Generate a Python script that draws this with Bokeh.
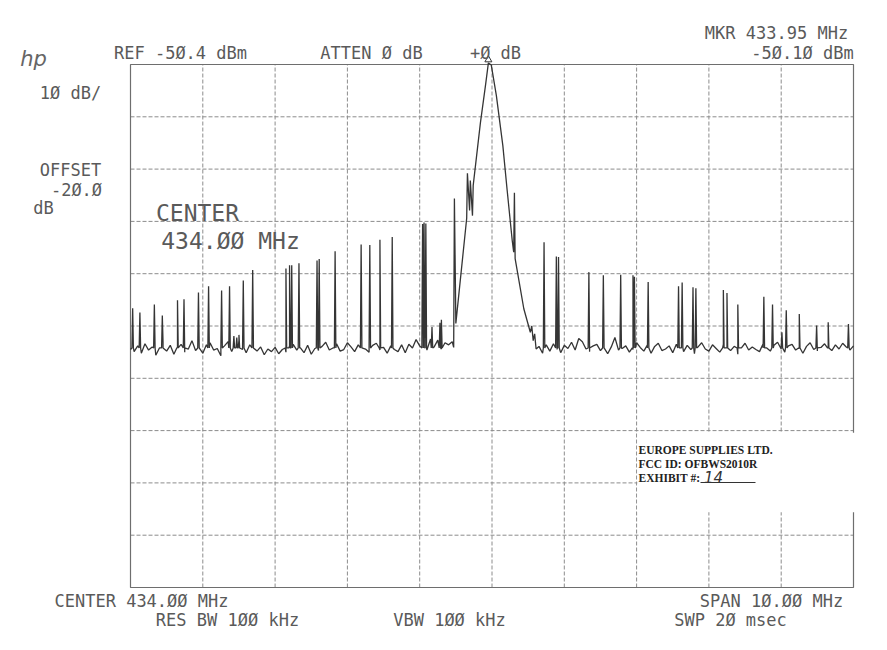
import numpy as np
from bokeh.plotting import figure
from bokeh.models import Range1d
from bokeh.core.properties import value
from bokeh.embed import file_html
from bokeh.resources import INLINE

# ---------------- data ----------------
f_start, f_stop = 429.0, 439.0          # MHz (center 434, span 10)
ref_level = -50.4                        # dBm, top of screen
db_div = 10.0
bottom_level = ref_level - 10 * db_div
marker_freq, marker_level = 433.95, -50.10

x_grid = [430, 431, 432, 433, 434, 435, 436, 437, 438]
y_grid = [-60.4, -70.4, -80.4, -90.4, -100.4, -110.4, -120.4, -130.4, -140.4]

# noise floor (0.05 MHz sweep steps)
noise_left_start = 429.00
noise_left = [
    -104.9, -105.3, -104.2, -105.6, -103.8, -105.0, -104.4, -106.0, -104.6, -103.5,
    -105.2, -104.1, -105.8, -104.5, -103.9, -105.4, -104.8, -103.2, -105.1, -104.3,
    -105.6, -104.0, -103.6, -105.0, -104.7, -106.1, -104.2, -103.4, -105.3, -104.6,
    -103.1, -104.9, -105.5, -104.0, -103.7, -105.2, -104.4, -105.9, -104.8, -105.3,
    -104.5, -105.7, -104.9, -105.4, -104.2, -103.9, -105.0, -104.6, -105.5, -104.1,
    -105.8, -104.7, -105.1, -104.3, -103.5, -105.0, -104.6, -103.8, -105.2, -104.9,
    -103.6, -104.4, -105.3, -104.0, -103.2, -104.8, -105.4, -104.1, -103.7, -105.0,
    -104.5, -105.6, -104.2, -104.9, -105.3, -104.0, -105.5, -103.9, -104.6, -103.0,
    -104.2, -103.5, -105.0, -102.9, -104.4, -103.1, -104.8, -103.6, -104.0, -103.4,
]
noise_right_start = 434.65
noise_right = [
    -104.3, -105.6, -104.0, -105.2, -103.8, -104.9, -105.5, -104.1, -104.7, -103.5,
    -105.0, -102.8, -103.4, -104.8, -105.3, -104.2, -103.9, -105.1, -104.5, -105.7,
    -104.4, -102.6, -105.0, -104.7, -104.2, -105.4, -104.9, -103.6, -104.5, -105.2,
    -104.0, -105.6, -104.3, -103.7, -105.1, -104.8, -104.2, -105.5, -103.9, -104.6,
    -105.3, -104.1, -104.9, -105.7, -104.4, -103.6, -104.8, -105.2, -104.0, -104.7,
    -105.4, -103.9, -104.5, -105.1, -104.3, -105.8, -104.6, -103.7, -105.0, -104.4,
    -104.9, -105.3, -103.8, -104.6, -105.2, -104.1, -103.5, -104.8, -105.4, -104.2,
    -103.9, -105.0, -104.7, -105.6, -104.3, -103.6, -104.9, -105.2, -104.5, -103.8,
    -104.6, -105.1, -104.0, -104.8, -103.7, -104.4, -105.0, -104.2,
]
noise_step = 0.05

# discrete spurs (MHz, dBm)
spur_freq = [
    429.03, 429.13, 429.33, 429.44, 429.65, 429.74, 429.94, 430.08, 430.26, 430.37,
    430.43, 430.47, 430.50, 430.56, 430.69, 431.15, 431.20, 431.23, 431.33, 431.58,
    431.61, 431.83, 432.19, 432.31, 432.45, 432.62, 433.04, 433.06, 433.085, 433.17,
    433.28, 433.30,
    434.72, 434.89, 434.92, 435.34, 435.54, 435.78, 435.95, 435.97, 436.16, 436.58,
    436.63, 436.78, 436.82, 437.20, 437.25, 437.40, 437.76, 437.88, 438.01, 438.07,
    438.25, 438.49, 438.65, 438.93,
]
spur_level = [
    -97.0, -97.8, -96.3, -98.4, -95.5, -95.3, -94.0, -92.8, -93.6, -92.8,
    -102.3, -102.6, -102.1, -91.7, -89.7, -89.4, -88.8, -88.8, -88.4, -87.9,
    -87.6, -86.1, -84.8, -84.9, -83.9, -83.4, -80.9, -80.6, -80.8, -100.6,
    -99.8, -99.2,
    -84.4, -87.1, -87.2, -90.1, -90.7, -90.6, -90.7, -91.0, -92.0, -92.8,
    -92.1, -93.0, -93.2, -93.5, -94.1, -96.3, -94.8, -96.3, -101.6, -97.4,
    -98.1, -100.3, -99.7, -100.0,
]
spur_base = -104.6
spur_halfwidth = 0.01

# main carrier response (MHz, dBm)
lobe_freq = [433.47, 433.48, 433.50, 433.65, 433.66, 433.69, 433.70, 433.73, 433.74,
             433.84, 433.91, 433.95, 433.99, 434.06, 434.15, 434.21, 434.28, 434.30,
             434.31, 434.32, 434.44, 434.53, 434.55, 434.57, 434.59, 434.61]
lobe_level = [-104.5, -76.0, -99.9, -79.8, -71.2, -78.3, -72.6, -79.3, -73.5,
              -61.5, -54.4, -50.1, -50.5, -56.3, -65.9, -74.5, -84.1, -86.3,
              -74.9, -87.5, -97.1, -101.6, -100.4, -103.2, -101.9, -104.8]

# ---------------- assemble trace ----------------
pts = []
nl_f = noise_left_start + noise_step * np.arange(len(noise_left))
nr_f = noise_right_start + noise_step * np.arange(len(noise_right))
pts += list(zip(nl_f, noise_left))
pts += list(zip(nr_f, noise_right))
pts += list(zip(lobe_freq, lobe_level))
for f, l in zip(spur_freq, spur_level):
    pts += [(f - spur_halfwidth, spur_base), (f, l), (f + spur_halfwidth, spur_base)]
pts.sort(key=lambda t: t[0])
tr_f = [t[0] for t in pts]
tr_l = [t[1] for t in pts]

# ---------------- figure (frame = whole canvas, graticule drawn in data units) ----
W, H = 880, 640
FL, FT = 130.0, 64.0              # graticule top-left on the canvas, px
PXF = 723.0 / (f_stop - f_start)  # px per MHz
PXD = 523.0 / (10 * db_div)       # px per dB

p = figure(width=W, height=H, output_backend="svg", toolbar_location=None,
           x_range=Range1d(f_start - FL / PXF, f_start + (W - FL) / PXF),
           y_range=Range1d(ref_level - (H - FT) / PXD, ref_level + FT / PXD),
           min_border_left=0, min_border_right=0, min_border_top=0, min_border_bottom=0)
p.axis.visible = False
p.grid.visible = False
p.outline_line_color = None
p.background_fill_color = "white"
p.border_fill_color = "white"

GRID = "#8c8c8c"
# graticule
p.segment(x_grid, [bottom_level] * len(x_grid), x_grid, [ref_level] * len(x_grid),
          line_color=GRID, line_dash="4 2", line_width=1)
p.segment([f_start] * len(y_grid), y_grid, [f_stop] * len(y_grid), y_grid,
          line_color=GRID, line_dash="4 2", line_width=1)
p.quad(left=[f_start], right=[f_stop], bottom=[bottom_level], top=[ref_level],
       fill_alpha=0, line_color="#6e6e6e", line_width=1.2)

# white sticker covering the graticule
p.quad(left=[436.01], right=[439.1], top=[-120.8], bottom=[-136.0],
       fill_color="white", fill_alpha=1.0, line_alpha=0)

# trace
p.line(tr_f, tr_l, line_color="#353535", line_width=1.3)
p.scatter([marker_freq], [marker_level + 0.6], marker="triangle", size=7,
          fill_alpha=0, line_color="#353535", line_width=1)


# ---------------- text ----------------
def dx(px):
    return f_start + (px - FL) / PXF


def dy(py):
    return ref_level - (py - FT) / PXD


MONO = "DejaVu Sans Mono"
TXT = "#5a5a5a"


def lab(txt, px, py, size, align="center", font=MONO, style="normal", color=TXT):
    p.text(x=[dx(px)], y=[dy(py)], text=[txt], text_align=align,
           text_baseline="middle", text_font=value(font), text_font_size=f"{size}px",
           text_font_style=style, text_color=color)


lab("hp", 33, 58, 21, font="DejaVu Sans", style="italic", color="#666666")
lab("REF -5Ø.4 dBm", 180, 52, 17)
lab("ATTEN Ø dB", 371, 52, 17)
lab("+Ø dB", 495, 52, 17)
lab("MKR 433.95 MHz", 776, 32, 17)
lab("-5Ø.1Ø dBm", 802, 52, 17)
lab("1Ø dB/", 70, 92, 17)
lab("OFFSET", 70, 169, 17)
lab("-2Ø.Ø", 76, 189, 17)
lab("dB", 43, 207, 17)
lab("CENTER", 197, 212, 23)
lab("434.ØØ MHz", 230, 240, 23)
lab("CENTER 434.ØØ MHz", 141, 600, 17)
lab("SPAN 1Ø.ØØ MHz", 771, 600, 17)
lab("RES BW 1ØØ kHz", 227, 619, 17)
lab("VBW 1ØØ kHz", 449, 619, 17)
lab("SWP 2Ø msec", 730, 619, 17)

SERIF = "Liberation Serif"
lab("EUROPE SUPPLIES LTD.", 638, 449, 11.5, align="left", font=SERIF, style="bold", color="#222222")
lab("FCC ID: OFBWS2010R", 638, 463, 11.5, align="left", font=SERIF, style="bold", color="#222222")
lab("EXHIBIT #:", 638, 477, 11.5, align="left", font=SERIF, style="bold", color="#222222")
lab("14", 713, 476, 15, font="DejaVu Sans", style="italic", color="#333333")
p.segment([dx(700)], [dy(482)], [dx(755)], [dy(482)], line_color="#333333", line_width=1)

open("out.html", "w").write(file_html(p, INLINE))
